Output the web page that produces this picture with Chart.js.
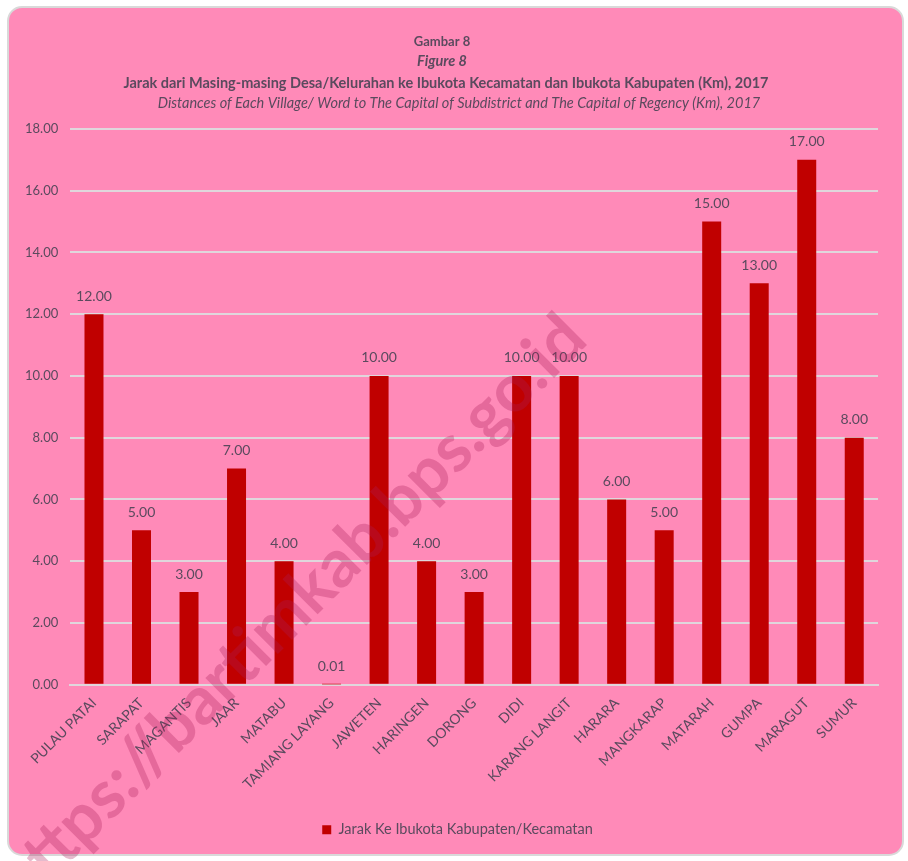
<!DOCTYPE html>
<html>
<head>
<meta charset="utf-8">
<script src="https://cdn.jsdelivr.net/npm/chart.js@4"></script>
<style>
  html, body { margin: 0; padding: 0; background: #ffffff; }
  #wrap { position: relative; width: 908px; height: 861px; }
</style>
</head>
<body>
<div id="wrap"><canvas id="myChart" width="908" height="861"></canvas></div>
<script>
// chart data
var villages = ['PULAU PATAI', 'SARAPAT', 'MAGANTIS', 'JAAR', 'MATABU', 'TAMIANG LAYANG', 'JAWETEN',
    'HARINGEN', 'DORONG', 'DIDI', 'KARANG LANGIT', 'HARARA', 'MANGKARAP', 'MATARAH', 'GUMPA', 'MARAGUT', 'SUMUR'];
var distances = [12, 5, 3, 7, 4, 0.01, 10, 4, 3, 10, 10, 6, 5, 15, 13, 17, 8];
var seriesName = 'Jarak Ke Ibukota Kabupaten/Kecamatan';
var titleLines = [
    'Gambar 8',
    'Figure 8',
    'Jarak dari Masing-masing Desa/Kelurahan ke Ibukota Kecamatan dan Ibukota Kabupaten (Km), 2017',
    'Distances of Each Village/ Word to The Capital of Subdistrict and The Capital of Regency (Km), 2017'
];
var watermark = 'https://bartimkab.bps.go.id';

var FONT = 'Lato, "Open Sans", sans-serif';
var TEXT = '#5b4a5e';

// pink rounded panel behind everything
var panelPlugin = {
    id: 'panel',
    beforeDraw: function (chart) {
        var ctx = chart.ctx;
        ctx.save();
        ctx.fillStyle = '#ffffff';
        ctx.fillRect(0, 0, chart.width, chart.height);
        ctx.fillStyle = '#ff8ab8';
        ctx.strokeStyle = '#d9d9d9';
        ctx.lineWidth = 2;
        ctx.beginPath();
        ctx.roundRect(8, 7, 895, 848, 14);
        ctx.fill();
        ctx.stroke();
        ctx.restore();
    }
};

// four title lines with their own styles
var titlePlugin = {
    id: 'titles',
    afterDraw: function (chart) {
        var ctx = chart.ctx;
        var styles = [
            { font: 'bold 13px ' + FONT, x: 442, y: 42 },
            { font: 'italic bold 14.5px ' + FONT, x: 442, y: 61 },
            { font: 'bold 14.5px ' + FONT, x: 446, y: 83 },
            { font: 'italic 14.5px ' + FONT, x: 459, y: 103 }
        ];
        ctx.save();
        ctx.fillStyle = TEXT;
        ctx.textAlign = 'center';
        ctx.textBaseline = 'middle';
        titleLines.forEach(function (line, i) {
            ctx.font = styles[i].font;
            ctx.fillText(line, styles[i].x, styles[i].y);
        });
        ctx.restore();
    }
};

// value labels above each bar
var valueLabelPlugin = {
    id: 'valueLabels',
    afterDatasetsDraw: function (chart) {
        var ctx = chart.ctx;
        var meta = chart.getDatasetMeta(0);
        ctx.save();
        ctx.fillStyle = TEXT;
        ctx.font = '14px ' + FONT;
        ctx.textAlign = 'center';
        ctx.textBaseline = 'middle';
        meta.data.forEach(function (bar, i) {
            ctx.fillText(distances[i].toFixed(2), bar.x, bar.y - 18);
        });
        ctx.restore();
    }
};

// legend sits a little right of centre in the original
var legendShift = {
    id: 'legendShift',
    afterLayout: function (chart) {
        chart.legend.left += 12;
        chart.legend.right += 12;
    }
};

// faint diagonal watermark, anchored at its end
var watermarkPlugin = {
    id: 'watermark',
    afterDraw: function (chart) {
        var ctx = chart.ctx;
        ctx.save();
        ctx.translate(590, 342);
        ctx.rotate(-Math.PI / 4);
        ctx.fillStyle = 'rgba(170, 30, 90, 0.3)';
        ctx.font = 'bold 67px ' + FONT;
        ctx.textAlign = 'right';
        ctx.textBaseline = 'alphabetic';
        ctx.fillText(watermark, 0, 0);
        ctx.restore();
    }
};

var ctx = document.getElementById('myChart').getContext('2d');
var distanceChart = new Chart(ctx, {
    type: 'bar',
    data: {
        labels: villages,
        datasets: [{
            label: seriesName,
            data: distances,
            backgroundColor: '#c00000',
            borderWidth: 0,
            categoryPercentage: 0.8,
            barPercentage: 0.5
        }]
    },
    options: {
        responsive: false,
        animation: false,
        layout: {
            padding: { top: 129, left: 13, right: 30, bottom: 14 }
        },
        plugins: {
            legend: {
                position: 'bottom',
                labels: {
                    color: TEXT,
                    font: { family: FONT, size: 14.5 },
                    boxWidth: 9,
                    boxHeight: 9,
                    padding: 20
                }
            },
            title: { display: false },
            tooltip: { enabled: false }
        },
        scales: {
            x: {
                grid: { display: false, drawTicks: false },
                border: { color: '#e0d6dc', width: 2 },
                ticks: {
                    color: TEXT,
                    font: { family: FONT, size: 14 },
                    minRotation: 45,
                    maxRotation: 45,
                    autoSkip: false,
                    padding: 10
                }
            },
            y: {
                min: 0,
                max: 18,
                grid: { color: '#e0d6dc', lineWidth: 2, drawTicks: false },
                border: { display: false },
                ticks: {
                    stepSize: 2,
                    color: TEXT,
                    font: { family: FONT, size: 13 },
                    padding: 12,
                    callback: function (v) { return v.toFixed(2); }
                }
            }
        }
    },
    plugins: [panelPlugin, titlePlugin, valueLabelPlugin, legendShift, watermarkPlugin]
});
</script>
</body>
</html>
